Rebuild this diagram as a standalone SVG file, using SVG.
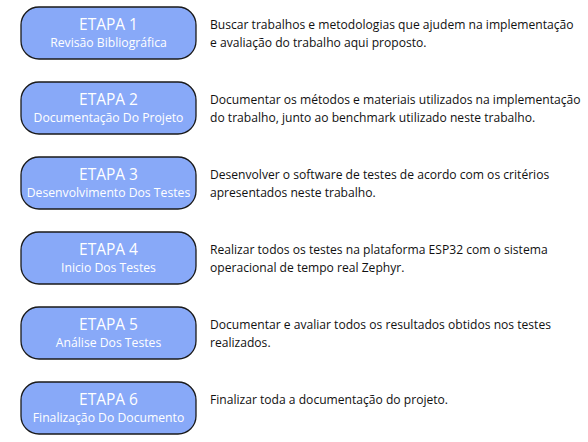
<svg xmlns="http://www.w3.org/2000/svg" width="588" height="442" viewBox="0 0 588 442">
<style>
.box{fill:#88a9f8;stroke:#1a1a1a;stroke-width:1.3}
.t1{font-family:"Open Sans","Noto Sans",sans-serif;font-size:15.5px;fill:#ffffff;text-anchor:middle}
.t2{font-family:"Open Sans","Noto Sans",sans-serif;font-size:12.2px;fill:#ffffff;text-anchor:middle}
.d{font-family:"Open Sans","Noto Sans",sans-serif;font-size:12.1px;fill:#111111}
</style>
<rect width="588" height="442" fill="#ffffff"/>
<g id="etapa1">
<rect class="box" x="21" y="7" width="175" height="52" rx="18"/>
<text class="t1" x="108.5" y="30">ETAPA 1</text>
<text class="t2" x="108.5" y="47">Revisão Bibliográfica</text>
<text class="d" x="210" y="29">Buscar trabalhos e metodologias que ajudem na implementação</text>
<text class="d" x="210" y="47">e avaliação do trabalho aqui proposto.</text>
</g>
<g id="etapa2">
<rect class="box" x="21" y="82" width="175" height="52" rx="18"/>
<text class="t1" x="108.5" y="105">ETAPA 2</text>
<text class="t2" x="108.5" y="122">Documentação Do Projeto</text>
<text class="d" x="210" y="104">Documentar os métodos e materiais utilizados na implementação</text>
<text class="d" x="210" y="122">do trabalho, junto ao benchmark utilizado neste trabalho.</text>
</g>
<g id="etapa3">
<rect class="box" x="21" y="157" width="175" height="52" rx="18"/>
<text class="t1" x="108.5" y="180">ETAPA 3</text>
<text class="t2" x="108.5" y="197">Desenvolvimento Dos Testes</text>
<text class="d" x="210" y="179">Desenvolver o software de testes de acordo com os critérios</text>
<text class="d" x="210" y="197">apresentados neste trabalho.</text>
</g>
<g id="etapa4">
<rect class="box" x="21" y="232" width="175" height="52" rx="18"/>
<text class="t1" x="108.5" y="255">ETAPA 4</text>
<text class="t2" x="108.5" y="272">Inicio Dos Testes</text>
<text class="d" x="210" y="254">Realizar todos os testes na plataforma ESP32 com o sistema</text>
<text class="d" x="210" y="272">operacional de tempo real Zephyr.</text>
</g>
<g id="etapa5">
<rect class="box" x="21" y="307" width="175" height="52" rx="18"/>
<text class="t1" x="108.5" y="330">ETAPA 5</text>
<text class="t2" x="108.5" y="347">Análise Dos Testes</text>
<text class="d" x="210" y="329">Documentar e avaliar todos os resultados obtidos nos testes</text>
<text class="d" x="210" y="347">realizados.</text>
</g>
<g id="etapa6">
<rect class="box" x="21" y="382" width="175" height="52" rx="18"/>
<text class="t1" x="108.5" y="405">ETAPA 6</text>
<text class="t2" x="108.5" y="422">Finalização Do Documento</text>
<text class="d" x="210" y="404">Finalizar toda a documentação do projeto.</text>
</g>
<g id="connectors"/>
</svg>
